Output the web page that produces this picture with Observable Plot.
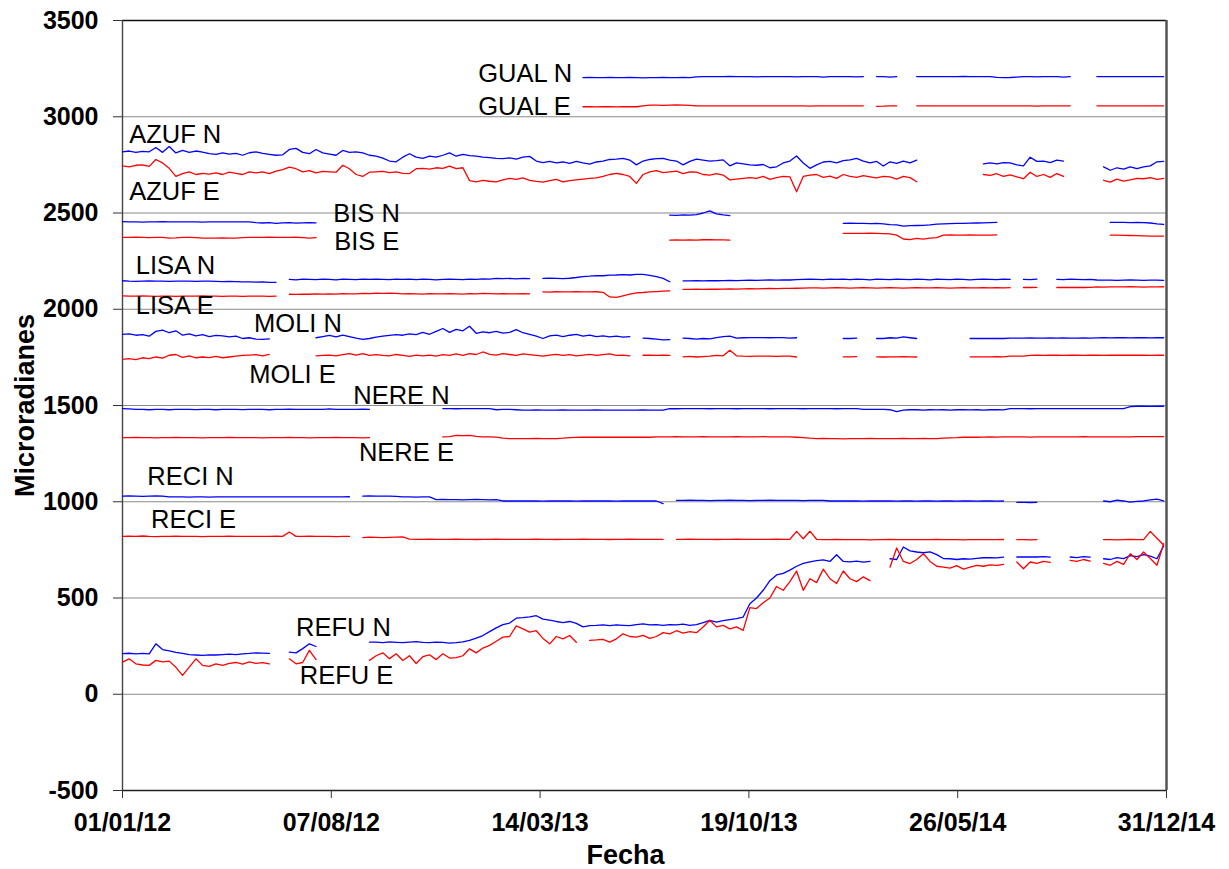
<!DOCTYPE html>
<html>
<head>
<meta charset="utf-8">
<title>Inclinometría 2012-2014</title>
<script src="https://cdn.jsdelivr.net/npm/d3@7"></script>
<script src="https://cdn.jsdelivr.net/npm/@observablehq/plot@0.6"></script>
<style>
  html, body { margin: 0; padding: 0; background: #fff; }
  #chart { width: 1229px; height: 869px; }
  #chart svg { display: block; }
</style>
</head>
<body>
<div id="chart"></div>
<script>
// Weekly readings (one value every 7 days from 01/01/2012); _ marks missing data.
const _ = null;
const startDate = "2012-01-01";
const endDate = "2014-12-31";
const stepDays = 7;

const gualN = [
  _,_,_,_,_,_,_,_,_,_, _,_,_,_,_,_,_,_,_,_, _,_,_,_,_,_,_,_,_,_,
  _,_,_,_,_,_,_,_,_,_, _,_,_,_,_,_,_,_,_,_, _,_,_,_,_,_,_,_,_,_,
  _,_,_,_,_,_,_,_,_,3203,
  3204,3203,3203,3205,3203,3203,3204,3203,3202,3203,
  3203,3204,3203,3203,3205,3203,3207,3208,3208,3208,
  3208,3209,3208,3208,3208,3207,3208,3208,3208,3208,
  3208,3207,3208,3208,3208,3206,3208,3208,3208,3208,
  3207,3208,_,3208,3208,3206,3208,_,_,3208,
  3208,3208,3208,3208,3208,3208,3209,3208,3208,3208,
  3208,3205,3203,3204,3206,3208,3208,3207,3208,3208,
  3208,3206,3208,_,_,_,3208,3208,3208,3208,
  3208,3208,3208,3208,3208,3208,3208
];
const gualE = [
  _,_,_,_,_,_,_,_,_,_, _,_,_,_,_,_,_,_,_,_, _,_,_,_,_,_,_,_,_,_,
  _,_,_,_,_,_,_,_,_,_, _,_,_,_,_,_,_,_,_,_, _,_,_,_,_,_,_,_,_,_,
  _,_,_,_,_,_,_,_,_,3052,
  3052,3051,3052,3052,3051,3052,3052,3052,3057,3060,
  3060,3059,3060,3061,3060,3059,3057,3057,3057,3057,
  3057,3057,3056,3057,3057,3057,3057,3057,3057,3057,
  3057,3057,3057,3055,3057,3057,3057,3057,3057,3057,
  3057,3057,_,3054,3055,3057,3057,_,_,3057,
  3057,3057,3057,3057,3057,3057,3057,3057,3057,3057,
  3057,3057,3057,3057,3057,3057,3057,3055,3057,3057,
  3057,3057,3057,_,_,_,3057,3057,3057,3057,
  3057,3057,3057,3057,3057,3057,3057
];
const azufN = [
  2818,2822,2815,2820,2818,2840,2815,2845,2812,2825,
  2815,2822,2816,2808,2805,2812,2806,2810,2800,2813,
  2818,2810,2805,2800,2802,2830,2836,2815,2808,2830,
  2812,2806,2800,2825,2815,2818,2812,2800,2795,2785,
  2770,2766,2790,2808,2790,2784,2795,2790,2800,2812,
  2795,2805,2798,2795,2790,2788,2784,2782,2786,2780,
  2790,2794,2770,2762,2768,2760,2765,2758,2768,2760,
  2754,2765,2770,2778,2780,2784,2775,2750,2770,2778,
  2782,2784,2775,2770,2750,2768,2780,2775,2770,2772,
  2776,2745,2760,2755,2750,2748,2752,2735,2740,2760,
  2770,2796,2760,2732,2750,2765,2768,2760,2772,2776,
  2784,2770,2760,2768,2744,2766,2758,2770,2760,2775,
  _,_,_,_,_,_,_,_,_,2755,
  2760,2755,2762,2760,2750,2745,2790,2768,2770,2762,
  2775,2770,_,_,_,_,_,2740,2722,2735,
  2728,2740,2730,2740,2745,2766,2768
];
const azufE = [
  2745,2740,2748,2750,2742,2778,2760,2732,2690,2705,
  2714,2700,2706,2702,2708,2700,2712,2706,2700,2714,
  2708,2714,2705,2718,2725,2738,2730,2714,2720,2708,
  2716,2714,2712,2748,2730,2700,2690,2712,2714,2716,
  2710,2714,2706,2705,2730,2732,2728,2735,2732,2744,
  2730,2735,2668,2662,2670,2665,2662,2672,2680,2675,
  2682,2670,2664,2660,2668,2675,2662,2668,2672,2676,
  2680,2682,2690,2700,2706,2700,2690,2654,2700,2714,
  2720,2710,2714,2718,2705,2714,2712,2700,2697,2705,
  2697,2672,2676,2680,2684,2680,2690,2675,2684,2690,
  2688,2610,2690,2697,2700,2685,2692,2680,2700,2690,
  2685,2694,2688,2682,2690,2688,2676,2690,2684,2662,
  _,_,_,_,_,_,_,_,_,2700,
  2695,2704,2690,2698,2688,2678,2712,2690,2700,2685,
  2705,2690,_,_,_,_,_,2670,2660,2676,
  2665,2672,2680,2678,2684,2675,2680
];
const bisN = [
  2455,2454,2454,2453,2454,2454,2455,2454,2454,2454,
  2454,2454,2453,2454,2454,2454,2454,2454,2454,2454,
  2450,2448,2450,2446,2449,2450,2447,2449,2450,2449,
  _,_,_,_,_,_,_,_,_,_, _,_,_,_,_,_,_,_,_,_,
  _,_,_,_,_,_,_,_,_,_, _,_,_,_,_,_,_,_,_,_,
  _,_,_,_,_,_,_,_,_,_,
  _,_,2489,2488,2490,2489,2492,2500,2511,2495,
  2490,2486,_,_,_,_,_,_,_,_,
  _,_,_,_,_,_,_,_,2446,2447,
  2446,2446,2445,2446,2444,2440,2438,2432,2434,2435,
  2436,2438,2442,2444,2445,2446,2446,2447,2448,2449,
  2450,2451,_,_,_,_,_,_,_,_,
  _,_,_,_,_,_,_,_,2451,2451,
  2451,2450,2451,2450,2448,2443,2441
];
const bisE = [
  2373,2373,2374,2373,2372,2373,2373,2370,2371,2373,
  2373,2372,2370,2369,2370,2371,2370,2369,2372,2373,
  2373,2373,2374,2373,2373,2373,2374,2372,2370,2372,
  _,_,_,_,_,_,_,_,_,_, _,_,_,_,_,_,_,_,_,_,
  _,_,_,_,_,_,_,_,_,_, _,_,_,_,_,_,_,_,_,_,
  _,_,_,_,_,_,_,_,_,_,
  _,_,2359,2360,2359,2360,2359,2361,2362,2360,
  2360,2359,_,_,_,_,_,_,_,_,
  _,_,_,_,_,_,_,_,2394,2394,
  2394,2394,2395,2394,2393,2392,2385,2365,2362,2368,
  2364,2370,2372,2385,2386,2385,2385,2386,2385,2385,
  2385,2386,_,_,_,_,_,_,_,_,
  _,_,_,_,_,_,_,_,2385,2385,
  2384,2383,2382,2381,2380,2380,2380
];
const lisaN = [
  2148,2146,2145,2146,2147,2146,2146,2145,2146,2146,
  2146,2145,2146,2146,2145,2144,2145,2144,2142,2142,
  2141,2142,2140,2140,_,2155,2153,2156,2155,2154,
  2156,2155,2153,2156,2155,2154,2157,2155,2156,2155,
  2154,2156,2155,2157,2154,2156,2155,2153,2155,2156,
  2155,2154,2156,2155,2158,2157,2160,2159,2160,2158,
  2160,2159,_,2160,2161,2160,2159,2161,2165,2170,
  2172,2175,2174,2177,2178,2180,2178,2181,2181,2176,
  2170,2160,2143,_,2147,2147,2148,2147,2149,2148,
  2149,2150,2149,2150,2151,2150,2151,2152,2151,2152,
  2152,2154,2155,2156,2155,2154,2156,2155,2157,2154,
  2156,2155,2153,2156,2155,2154,2156,2155,2154,2156,
  2155,2153,2156,2155,2154,2156,2155,2153,2155,2156,
  2155,2154,2156,2155,_,2155,2154,2156,_,_,
  2155,2154,2156,2155,2154,2155,2152,2151,2151,2150,
  2151,2152,2151,2150,2151,2151,2150
];
const lisaE = [
  2070,2068,2068,2069,2068,2067,2068,2068,2067,2068,
  2068,2068,2069,2068,2068,2067,2068,2068,2067,2068,
  2068,2068,2067,2068,_,2078,2077,2079,2078,2080,
  2079,2080,2079,2081,2080,2080,2082,2081,2083,2082,
  2083,2082,2080,2081,2080,2079,2081,2080,2080,2081,
  2080,2079,2081,2080,2082,2081,2080,2081,2080,2080,
  2081,2080,_,2090,2089,2091,2090,2090,2091,2090,
  2090,2091,2088,2064,2062,2070,2078,2085,2087,2090,
  2092,2094,2095,_,2103,2103,2104,2103,2105,2104,
  2105,2106,2105,2106,2107,2106,2107,2108,2107,2108,
  2108,2109,2110,2111,2111,2110,2111,2112,2111,2110,
  2111,2112,2111,2110,2111,2112,2111,2110,2111,2112,
  2111,2111,2112,2111,2110,2111,2112,2111,2111,2112,
  2111,2112,2111,2112,_,2113,2113,2114,_,_,
  2113,2114,2113,2114,2113,2114,2116,2115,2116,2116,
  2116,2117,2116,2115,2116,2116,2117
];
const moliN = [
  1870,1872,1865,1868,1860,1885,1891,1878,1888,1865,
  1872,1862,1868,1858,1864,1862,1856,1860,1848,1852,
  1845,1843,1846,_,_,_,_,_,_,1852,
  1858,1864,1856,1866,1858,1850,1843,1848,1855,1860,
  1864,1868,1865,1872,1868,1880,1870,1885,1900,1880,
  1895,1888,1912,1875,1882,1878,1885,1876,1880,1894,
  1878,1870,1860,1848,1862,1866,1858,1865,1870,1860,
  1866,1858,1862,1856,1860,1855,1858,_,1850,1848,
  1845,1841,1842,_,1850,1848,1845,1848,1846,1853,
  1858,1860,1850,1852,1853,1853,1853,1852,1853,1853,
  1850,1852,_,_,_,_,_,_,1848,1848,
  1850,_,_,1848,1848,1852,1850,1856,1852,1848,
  _,_,_,_,_,_,_,1848,1848,1848,
  1848,1849,1848,1850,1850,1850,1851,1850,1850,1851,
  1850,1851,1850,1850,1851,1850,1851,1852,1851,1852,
  1852,1851,1852,1852,1851,1852,1852
];
const moliE = [
  1740,1744,1738,1748,1744,1752,1746,1761,1765,1750,
  1758,1748,1752,1749,1755,1748,1752,1756,1760,1762,
  1764,1758,1766,_,_,_,_,_,_,1758,
  1760,1762,1758,1764,1770,1762,1770,1760,1764,1760,
  1758,1765,1760,1755,1762,1758,1762,1756,1764,1760,
  1768,1760,1770,1765,1778,1766,1762,1770,1765,1760,
  1768,1764,1760,1756,1762,1766,1760,1764,1758,1762,
  1766,1760,1764,1768,1760,1762,1758,_,1761,1762,
  1760,1761,1760,_,1753,1755,1752,1754,1756,1760,
  1758,1787,1758,1756,1755,1757,1756,1756,1755,1757,
  1756,1752,_,_,_,_,_,_,1753,1753,
  1754,_,_,1753,1752,1753,1753,1754,1753,1752,
  _,_,_,_,_,_,_,1753,1753,1753,
  1753,1754,1753,1756,1756,1757,1760,1761,1760,1761,
  1761,1760,1761,1761,1760,1761,1761,1760,1761,1761,
  1761,1762,1761,1761,1760,1761,1761
];
const nereN = [
  1484,1482,1480,1480,1478,1480,1480,1478,1480,1480,
  1480,1479,1480,1480,1478,1480,1480,1480,1479,1480,
  1480,1480,1478,1480,1480,1481,1480,1480,1480,1480,
  1480,1482,1480,1480,1480,1480,1481,1480,_,_,
  _,_,_,_,_,_,_,_,1484,1484,
  1483,1484,1484,1484,1484,1484,1478,1480,1480,1478,
  1476,1476,1477,1476,1476,1476,1477,1476,1476,1476,
  1476,1477,1476,1476,1476,1476,1476,1476,1477,1476,
  1476,1476,1484,1483,1484,1484,1484,1484,1483,1484,
  1484,1484,1483,1484,1484,1484,1484,1483,1484,1484,
  1484,1484,1483,1484,1484,1484,1484,1483,1484,1484,
  1484,1480,1480,1480,1480,1478,1468,1476,1478,1478,
  1476,1478,1477,1478,1476,1478,1478,1477,1478,1476,
  1478,1478,1477,1484,1484,1484,1483,1484,1484,1484,
  1484,1484,1484,1484,1484,1484,1484,1484,1484,1484,
  1484,1494,1496,1496,1495,1496,1496
];
const nereE = [
  1333,1333,1334,1333,1333,1332,1333,1333,1334,1333,
  1333,1333,1332,1333,1333,1333,1334,1333,1333,1333,
  1333,1332,1333,1333,1333,1334,1333,1333,1332,1333,
  1333,1333,1334,1333,1333,1333,1332,1333,_,_,
  _,_,_,_,_,_,_,_,1337,1338,
  1345,1344,1345,1340,1337,1337,1336,1330,1328,1328,
  1328,1328,1329,1328,1328,1328,1330,1333,1334,1335,
  1335,1335,1336,1335,1335,1336,1335,1335,1336,1335,
  1337,1337,1337,1338,1337,1337,1337,1338,1337,1337,
  1337,1337,1338,1337,1337,1337,1338,1337,1337,1337,
  1337,1335,1333,1330,1328,1329,1328,1328,1327,1328,
  1328,1328,1329,1328,1328,1328,1328,1329,1328,1328,
  1329,1328,1328,1330,1332,1333,1335,1336,1335,1336,
  1337,1336,1337,1337,1337,1337,1336,1337,1337,1337,
  1337,1337,1337,1337,1338,1337,1337,1337,1337,1337,
  1337,1337,1338,1338,1338,1338,1338
];
const reciN = [
  1029,1030,1029,1028,1029,1030,1029,1025,1025,1025,
  1024,1025,1025,1024,1025,1025,1025,1025,1025,1025,
  1025,1025,1025,1025,1025,1025,1025,1025,1025,1025,
  1025,1025,1025,1025,1026,_,1029,1030,1029,1029,
  1029,1028,1025,1025,1024,1025,1025,1011,1012,1011,
  1011,1010,1011,1012,1011,1010,1011,1004,1004,1005,
  1004,1004,1004,1003,1004,1005,1004,1004,1003,1004,
  1004,1005,1004,1004,1003,1004,1004,1004,1005,1004,
  1004,990,_,1007,1007,1008,1007,1007,1006,1007,
  1007,1008,1007,1007,1006,1007,1007,1008,1007,1007,
  1007,1007,1006,1007,1007,1007,1004,1004,1005,1004,
  1004,1003,1004,1004,1005,1004,1003,1004,1004,1003,
  1004,1004,1003,1004,1004,1003,1004,1004,1003,1004,
  1004,1003,1004,_,997,997,996,997,_,_,
  _,_,_,_,_,_,_,1004,1000,1008,
  1004,998,1002,1004,1010,1014,1004
];
const reciE = [
  820,821,820,822,820,819,820,820,821,820,
  820,820,819,820,820,820,821,820,820,820,
  820,820,820,821,820,843,820,820,821,820,
  820,820,819,820,820,_,814,816,815,814,
  815,816,817,806,805,805,806,805,805,805,
  806,805,805,804,805,805,806,805,805,805,
  805,805,806,805,805,804,805,805,805,806,
  805,805,805,804,805,805,806,805,805,805,
  805,805,_,805,805,806,805,805,805,804,
  805,805,806,805,805,805,805,805,806,805,
  805,846,808,847,805,803,803,804,803,803,
  803,803,802,803,803,804,803,803,803,803,
  803,803,804,803,803,803,802,803,803,803,
  803,803,804,_,803,803,802,803,_,_,
  _,_,_,_,_,_,_,803,803,802,
  803,804,803,803,846,810,775
];
const refuN = [
  211,213,210,212,210,262,232,225,218,212,
  206,204,202,205,204,206,208,206,210,212,
  215,214,212,_,_,219,215,237,262,248,
  _,_,_,_,_,_,_,271,271,268,
  272,270,268,271,273,270,268,271,270,266,
  268,272,280,292,305,325,345,362,370,395,
  398,402,408,390,385,378,372,378,368,350,
  357,358,360,356,360,358,356,362,366,360,
  362,358,362,360,364,358,362,372,384,375,
  382,388,393,401,470,500,540,590,620,628,
  645,665,680,688,694,698,690,725,690,688,
  692,686,690,_,_,704,700,765,745,739,
  735,740,725,705,704,700,704,702,706,709,
  710,708,712,_,713,713,713,713,715,712,
  _,_,713,710,715,712,_,704,700,710,
  705,720,715,725,718,704,770
];
const refuE = [
  167,184,158,152,150,176,168,172,140,98,
  141,184,150,145,158,150,160,165,156,168,
  160,164,158,_,_,184,158,165,228,180,
  _,_,_,_,_,_,_,176,200,215,
  185,210,175,200,160,195,205,180,210,188,
  190,200,236,215,240,254,275,297,300,355,
  340,323,330,290,262,300,288,305,270,_,
  280,282,285,271,288,314,300,297,306,290,
  300,320,314,330,318,325,320,349,384,350,
  358,340,350,332,450,445,475,500,560,540,
  585,640,540,600,580,650,600,575,640,600,
  585,610,590,_,_,660,760,690,679,700,
  730,690,665,660,655,668,650,660,670,665,
  672,670,675,_,687,652,687,680,690,685,
  _,_,695,690,700,692,_,680,670,690,
  675,730,700,739,705,670,782
];

// Station labels drawn next to their traces
const labelText  = ["GUAL N", "GUAL E", "AZUF N", "AZUF E", "BIS N", "BIS E", "LISA N", "LISA E",
                    "MOLI N", "MOLI E", "NERE N", "NERE E", "RECI N", "RECI E", "REFU N", "REFU E"];
const labelDate  = ["2013-01-08", "2013-01-08", "2012-01-08", "2012-01-08", "2012-08-09", "2012-08-10",
                    "2012-01-15", "2012-01-15", "2012-05-18", "2012-05-13", "2012-08-30", "2012-09-05",
                    "2012-01-27", "2012-01-31", "2012-07-01", "2012-07-05"];
const labelValue = [3222, 3050, 2905, 2610, 2494, 2349, 2226, 2019,
                    1926, 1657, 1548, 1254, 1127, 904, 343, 95];

const yTicks = [-500, 0, 500, 1000, 1500, 2000, 2500, 3000, 3500];
const xTickDates = ["2012-01-01", "2012-08-07", "2013-03-14", "2013-10-19", "2014-05-26", "2014-12-31"];

const BLUE = "#0000ff";
const RED = "#ff0000";

const series = [
  {name: "GUAL N", values: gualN, color: BLUE}, {name: "GUAL E", values: gualE, color: RED},
  {name: "AZUF N", values: azufN, color: BLUE}, {name: "AZUF E", values: azufE, color: RED},
  {name: "BIS N",  values: bisN,  color: BLUE}, {name: "BIS E",  values: bisE,  color: RED},
  {name: "LISA N", values: lisaN, color: BLUE}, {name: "LISA E", values: lisaE, color: RED},
  {name: "MOLI N", values: moliN, color: BLUE}, {name: "MOLI E", values: moliE, color: RED},
  {name: "NERE N", values: nereN, color: BLUE}, {name: "NERE E", values: nereE, color: RED},
  {name: "RECI N", values: reciN, color: BLUE}, {name: "RECI E", values: reciE, color: RED},
  {name: "REFU N", values: refuN, color: BLUE}, {name: "REFU E", values: refuE, color: RED}
];

const t0 = new Date(startDate);
const t1 = new Date(endDate);

const rows = [];
for (const s of series) {
  if (s.values.length !== 157) throw new Error(s.name + " has " + s.values.length + " values");
  s.values.forEach((v, i) => {
    rows.push({series: s.name, color: s.color, date: d3.utcDay.offset(t0, i * stepDays), value: v});
  });
}

const labels = labelText.map((t, i) => ({text: t, date: new Date(labelDate[i]), value: labelValue[i]}));
const xTicks = xTickDates.map(d => new Date(d));
const fmt = d3.utcFormat("%d/%m/%y");

const font = "'Liberation Sans', Arial, Helvetica, sans-serif";

const chart = Plot.plot({
  width: 1229,
  height: 869,
  marginLeft: 122,
  marginRight: 63,
  marginTop: 20,
  marginBottom: 79,
  style: {fontFamily: font, background: "#fff", color: "#000", overflow: "visible"},
  x: {type: "utc", domain: [t0, t1]},
  y: {domain: [-500, 3500]},
  color: {type: "identity"},
  marks: [
    Plot.ruleY(yTicks.filter(v => v > -500 && v < 3500), {stroke: "#8a8a8a", strokeWidth: 1.2}),
    Plot.ruleY([3500], {stroke: "#111", strokeWidth: 1.4}),
    Plot.ruleY([-500], {stroke: "#222", strokeWidth: 1.4}),
    Plot.ruleX([t0], {stroke: "#444", strokeWidth: 1.4}),
    Plot.ruleX([t1], {stroke: "#555", strokeWidth: 2.5}),
    Plot.axisY(yTicks, {
      tickSize: 9, tickPadding: 15, stroke: "#333", tickFormat: d => String(d),
      fontSize: 25, fontWeight: "bold", fill: "#000", label: null
    }),
    Plot.axisX(xTicks, {
      tickSize: 8, tickPadding: 15, stroke: "#333", tickFormat: fmt,
      fontSize: 25, fontWeight: "bold", fill: "#000", label: null
    }),
    Plot.text(["Fecha"], {frameAnchor: "bottom", dy: 73, dx: -19, fontSize: 27, fontWeight: "bold", fill: "#000"}),
    Plot.text(["Microradianes"], {frameAnchor: "left", textAnchor: "middle", dx: -97, rotate: -90, fontSize: 27, fontWeight: "bold", fill: "#000"}),
    Plot.lineY(rows, {x: "date", y: "value", z: "series", stroke: "color", strokeWidth: 1.3, curve: "linear"}),
    Plot.text(labels, {x: "date", y: "value", text: "text", textAnchor: "start", fontSize: 25.5, fill: "#000"})
  ]
});

document.getElementById("chart").appendChild(chart);
</script>
</body>
</html>
